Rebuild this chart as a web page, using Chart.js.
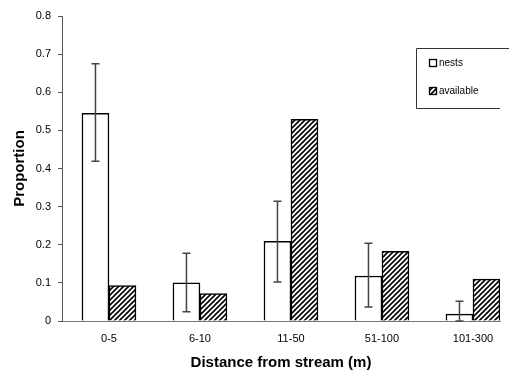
<!DOCTYPE html>
<html>
<head>
<meta charset="utf-8">
<script src="https://cdn.jsdelivr.net/npm/chart.js@4"></script>
<style>
  html, body { margin: 0; padding: 0; background: #fff; }
  #wrap { width: 509px; height: 377px; }
</style>
</head>
<body>
<div id="wrap"><canvas id="myChart" width="509" height="377"></canvas></div>
<script>
const categories = ['0-5', '6-10', '11-50', '51-100', '101-300'];
const nests = [0.545, 0.100, 0.209, 0.118, 0.018];
const available = [0.093, 0.072, 0.529, 0.183, 0.110];
const nestsUpper = [0.675, 0.178, 0.314, 0.204, 0.052];
const nestsLower = [0.419, 0.024, 0.102, 0.037, 0.0];
const yTicks = [0, 0.1, 0.2, 0.3, 0.4, 0.5, 0.6, 0.7, 0.8];

const FONT = "'Liberation Sans', Arial, sans-serif";

// hatch pattern for the "available" bars
function makeHatch() {
    const c = document.createElement('canvas');
    c.width = 5;
    c.height = 5;
    const g = c.getContext('2d');
    g.fillStyle = '#fff';
    g.fillRect(0, 0, 5, 5);
    g.strokeStyle = '#000';
    g.lineWidth = 1.6;
    g.beginPath();
    g.moveTo(-1, 6); g.lineTo(6, -1);
    g.moveTo(-1, 1); g.lineTo(1, -1);
    g.moveTo(4, 6); g.lineTo(6, 4);
    g.stroke();
    return g.createPattern(c, 'repeat');
}

const ctx = document.getElementById('myChart').getContext('2d');

//error bars on the nests bars
const errorBars = {
    id: 'errorBars',
    afterDatasetsDraw(chart) {
        const meta = chart.getDatasetMeta(0);
        const y = chart.scales.y;
        const c = chart.ctx;
        c.save();
        c.strokeStyle = '#444';
        c.lineWidth = 1.5;
        meta.data.forEach((bar, i) => {
            const x = bar.x;
            const top = y.getPixelForValue(nestsUpper[i]);
            const bot = y.getPixelForValue(nestsLower[i]);
            c.beginPath();
            c.moveTo(x, top); c.lineTo(x, bot);
            c.moveTo(x - 4, top); c.lineTo(x + 4, top);
            c.moveTo(x - 4, bot); c.lineTo(x + 4, bot);
            c.stroke();
        });
        c.restore();
    }
};

// boxed legend in the top right
const boxLegend = {
    id: 'boxLegend',
    afterDraw(chart) {
        const c = chart.ctx;
        c.save();
        c.strokeStyle = '#333';
        c.lineWidth = 1;
        c.beginPath();
        c.moveTo(509, 48.5); c.lineTo(416.5, 48.5); c.lineTo(416.5, 108.5); c.lineTo(500, 108.5);
        c.stroke();
        c.font = '10px ' + FONT;
        c.fillStyle = '#000';
        c.textBaseline = 'middle';
        const rows = [[63, '#fff'], [91, chart.data.datasets[1].backgroundColor]];
        rows.forEach((r, i) => {
            c.fillStyle = r[1];
            c.fillRect(429, r[0] - 4, 8, 8);
            c.strokeStyle = '#000';
            c.lineWidth = 1.3;
            c.strokeRect(429.5, r[0] - 3.5, 7, 7);
            c.fillStyle = '#000';
            c.fillText(chart.data.datasets[i].label, 439, r[0]);
        });
        c.restore();
    }
};

const data = {
    datasets: [
        {
            label: 'nests',
            data: nests.map((v, i) => ({ x: i, y: v })),
            backgroundColor: '#fff',
            borderColor: '#000',
            borderWidth: 1.5,
            barThickness: 27,
        },
        {
            label: 'available',
            data: available.map((v, i) => ({ x: i, y: v })),
            backgroundColor: makeHatch(),
            borderColor: '#000',
            borderWidth: 1.5,
            barThickness: 27,
        },
    ],
};

const config = {
    type: 'bar',
    data: data,
    plugins: [errorBars, boxLegend],
    options: {
        responsive: false,
        animation: false,
        layout: { padding: { top: 16, right: 9, left: 0, bottom: 0 } },
        plugins: {
            legend: { display: false },
            tooltip: { enabled: false },
        },
        scales: {
            x: {
                type: 'linear',
                offset: false,
                min: -0.516,
                max: 4.297,
                afterFit: (s) => { s.height = 56; },
                grid: { display: false, drawTicks: false },
                border: { color: '#777', width: 1 },
                ticks: {
                    stepSize: 1,
                    includeBounds: false,
                    padding: 11,
                    color: '#000',
                    font: { family: FONT, size: 11 },
                    callback: function(value) {
                        return categories[value] !== undefined ? categories[value] : '';
                    },
                },
                title: {
                    display: true,
                    text: 'Distance from stream (m)',
                    color: '#000',
                    font: { family: FONT, size: 15, weight: 'bold' },
                    padding: { top: 0, bottom: 5 },
                },
            },
            y: {
                min: 0,
                max: 0.8,
                afterFit: (s) => { s.width = 62; },
                afterBuildTicks: (s) => { s.ticks = yTicks.map(v => ({ value: v })); },
                grid: { drawOnChartArea: false, drawTicks: true, tickLength: 4, tickColor: '#555' },
                border: { color: '#555', width: 1 },
                ticks: {
                    padding: 7,
                    color: '#000',
                    font: { family: FONT, size: 11 },
                    callback: function(value) {
                        return String(Math.round(value * 10) / 10);
                    },
                },
                title: {
                    display: true,
                    text: 'Proportion',
                    color: '#000',
                    font: { family: FONT, size: 15, weight: 'bold' },
                    padding: { top: 11, bottom: 0 },
                },
            },
        },
    },
};

const myChart = new Chart(ctx, config);
</script>
</body>
</html>
